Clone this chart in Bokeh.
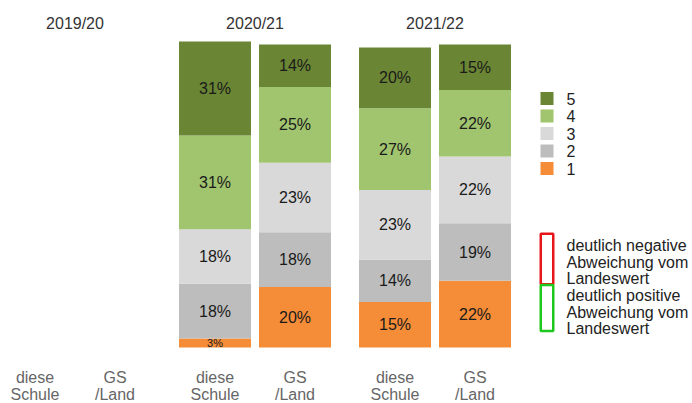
from bokeh.plotting import figure
from bokeh.models import ColumnDataSource, Range1d
from bokeh.core.properties import value
from bokeh.embed import file_html
from bokeh.resources import INLINE

# ---------------- data ----------------
years = ["2019/20", "2020/21", "2021/22"]
groups = ["diese Schule", "GS/Land"]
group_labels = ["diese\nSchule", "GS\n/Land"]
levels = ["1", "2", "3", "4", "5"]

bar_year = ["2020/21", "2020/21", "2021/22", "2021/22"]
bar_group = ["diese Schule", "GS/Land", "diese Schule", "GS/Land"]
lvl1 = [3, 20, 15, 22]
lvl2 = [18, 18, 14, 19]
lvl3 = [18, 23, 23, 22]
lvl4 = [31, 25, 27, 22]
lvl5 = [31, 14, 20, 15]

dev_labels = ["deutlich negative\nAbweichung vom\nLandeswert",
              "deutlich positive\nAbweichung vom\nLandeswert"]

# ---------------- styles / layout ----------------
colors = ["#f58c38", "#bdbdbd", "#d9d9d9", "#a1c46f", "#6a8534"]
dev_colors = ["#e8161b", "#1ec81e"]
FONT = "Liberation Sans"
W, H = 692, 403
SLOT_PX = 80.0          # pixels per bar slot
GROUP_PAD = 0.25        # slots between groups
BAR_W = 0.9
K = 3.03                # pixels per percent
Y0_PX = 347             # screen y (from top) of 0 %
X_START = 5.5 / SLOT_PX


def px_x(sx):
    return X_START + sx / SLOT_PX


def px_y(sy):
    return -(H - Y0_PX) / K + (H - sy) / K


def slot_x(year, group):
    return years.index(year) * (len(groups) + GROUP_PAD) + groups.index(group) + 0.5


p = figure(width=W, height=H, output_backend="svg", toolbar_location=None,
           x_range=Range1d(X_START, X_START + W / SLOT_PX),
           y_range=Range1d(-(H - Y0_PX) / K, Y0_PX / K),
           min_border=0, min_border_left=0, min_border_right=0,
           min_border_top=0, min_border_bottom=0,
           x_axis_location=None, y_axis_location=None)
p.outline_line_color = None
p.xgrid.visible = False
p.ygrid.visible = False
p.background_fill_color = "white"
p.border_fill_color = "white"

# ---------------- stacked bars ----------------
stack_cols = ["l1", "l2", "l3", "l4", "l5"]
values = [lvl1, lvl2, lvl3, lvl4, lvl5]
src = ColumnDataSource(dict(
    x=[slot_x(y, g) for y, g in zip(bar_year, bar_group)],
    l1=lvl1, l2=lvl2, l3=lvl3, l4=lvl4, l5=lvl5))
p.vbar_stack(stack_cols, x="x", width=BAR_W, source=src,
             fill_color=colors, line_color=None)

# percent labels
lx, ly, lt, ls = [], [], [], []
for i, (y, g) in enumerate(zip(bar_year, bar_group)):
    base = 0
    for vals in values:
        v = vals[i]
        lx.append(slot_x(y, g))
        ly.append(base + v / 2)
        lt.append(f"{v}%")
        ls.append("16px" if v >= 5 else "11px")
        base += v
p.text(x=lx, y=ly, text=lt, text_font=value(FONT), text_font_size=ls,
       text_align="center", text_baseline="middle", text_color="#1a1a1a")

# year titles
p.text(x=[years.index(y) * (len(groups) + GROUP_PAD) + len(groups) / 2 for y in years],
       y=[px_y(23)] * len(years), text=years, text_font=value(FONT),
       text_font_size="16px", text_align="center", text_baseline="alphabetic",
       text_color="#333333")

# category labels
cx, cy, ct = [], [], []
for y in years:
    for g, lab in zip(groups, group_labels):
        for j, line in enumerate(lab.split("\n")):
            cx.append(slot_x(y, g))
            cy.append(px_y(376.5 + 17.3 * j))
            ct.append(line)
p.text(x=cx, y=cy, text=ct, text_font=value(FONT), text_font_size="16px",
       text_align="center", text_baseline="alphabetic", text_color="#666666")

# ---------------- legend ----------------
leg_levels = levels[::-1]
leg_colors = colors[::-1]
leg_y = [px_y(98 + 17.5 * i) for i in range(len(leg_levels))]
p.rect(x=[px_x(546.5)] * len(leg_levels), y=leg_y, width=13, height=13,
       width_units="screen", height_units="screen",
       fill_color=leg_colors, line_color=None)
p.text(x=[px_x(566)] * len(leg_levels), y=leg_y, text=leg_levels,
       text_font=value(FONT), text_font_size="16px", text_align="left",
       text_baseline="middle", text_color="#222222")

# deviation legend (outlined boxes)
box_cy = [258.5, 307.5]
box_h = [50.5, 46]
for lab, col, cyy, hh, top in zip(dev_labels, dev_colors, box_cy, box_h, [245, 295]):
    p.rect(x=[px_x(546.5)], y=[px_y(cyy)], width=12.5, height=hh,
           width_units="screen", height_units="screen",
           fill_color=None, line_color=col, line_width=2.5)
    lines = lab.split("\n")
    p.text(x=[px_x(566)] * len(lines), y=[px_y(top + 16.7 * j) for j in range(len(lines))],
           text=lines, text_font=value(FONT), text_font_size="16px",
           text_align="left", text_baseline="alphabetic", text_color="#222222")

open("out.html", "w").write(file_html(p, INLINE))
